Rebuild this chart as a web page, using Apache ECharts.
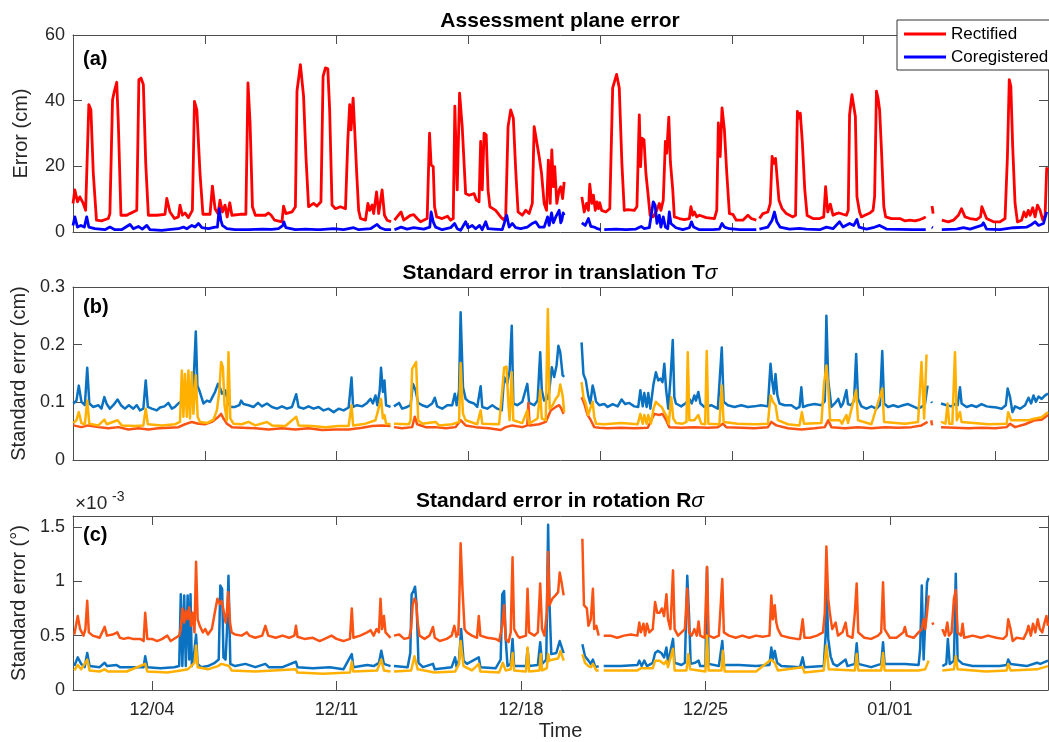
<!DOCTYPE html>
<html>
<head>
<meta charset="utf-8">
<script src="https://cdn.jsdelivr.net/npm/echarts@6/dist/echarts.min.js"></script>
<style>
  html, body { margin: 0; padding: 0; background: #fff; }
  #chart { width: 1049px; height: 742px; }
</style>
</head>
<body>
<div id="chart"></div>
<script>
// time axis: days since 12/01 00:00
var weekTicks = [3, 10, 17, 24, 31];
var weekLabels = ['12/04', '12/11', '12/18', '12/25', '01/01'];
var fiveDayTicks = [5, 10, 15, 20, 25, 30, 35];
var errTicks = [0, 20, 40, 60];
var transTicks = [0, 0.1, 0.2, 0.3];
var rotTicks = [0, 0.5, 1, 1.5]; // x 10^-3

// (a) assessment plane error, cm   (null = no data)
var rectified = [
[0,8.7],[0.07,12.8],[0.17,9.2],[0.26,10.7],[0.39,8.7],[0.48,6.6],[0.60,38.8],[0.68,37.2],[0.77,17.9],[0.89,3.6],[1.08,3.4],[1.34,4.1],[1.40,5.6],[1.50,40.3],[1.57,42.9],[1.66,45.6],[1.72,33.2],[1.82,5.1],[2.04,5.1],[2.16,5.6],[2.42,6.6],[2.50,46.4],[2.58,46.9],[2.67,44.9],[2.76,20.9],[2.86,5.1],[3.18,5.1],[3.49,5.4],[3.56,10.2],[3.68,6.1],[3.85,4.1],[4.00,4.6],[4.06,8.2],[4.15,5.1],[4.25,5.8],[4.38,4.4],[4.53,6.6],[4.61,39.8],[4.70,37.2],[4.82,17.9],[4.93,5.4],[5.20,5.4],[5.29,14.0],[5.39,7.1],[5.50,5.6],[5.58,9.7],[5.67,6.1],[5.77,8.2],[5.85,4.6],[5.95,8.9],[6.03,5.1],[6.34,5.4],[6.56,5.4],[6.64,45.4],[6.72,33.2],[6.81,7.7],[6.92,5.1],[7.30,5.1],[7.42,5.8],[7.52,5.1],[7.65,3.6],[7.93,3.1],[7.99,7.9],[8.08,5.6],[8.31,6.1],[8.44,7.7],[8.50,42.9],[8.63,51.0],[8.75,41.3],[8.84,23.0],[8.94,7.7],[9.13,8.7],[9.26,7.9],[9.32,8.2],[9.41,9.2],[9.49,47.4],[9.58,50.0],[9.67,49.7],[9.74,37.2],[9.83,8.2],[9.96,7.1],[10.15,7.7],[10.34,7.1],[10.43,28.1],[10.50,38.8],[10.55,31.1],[10.63,40.8],[10.69,31.1],[10.76,18.9],[10.84,6.6],[10.91,4.1],[11.10,3.6],[11.19,8.7],[11.26,6.6],[11.35,8.2],[11.41,5.6],[11.52,12.2],[11.60,5.6],[11.73,12.8],[11.82,5.1],[11.92,3.6],[12.07,3.1],null,
[12.20,3.6],[12.45,6.1],[12.55,3.6],[12.81,5.1],[12.93,5.3],[13.06,4.1],[13.19,3.1],[13.44,4.1],[13.53,30.1],[13.59,20.4],[13.67,19.9],[13.72,7.7],[13.80,4.6],[14.01,4.1],[14.21,4.8],[14.33,3.6],[14.43,4.1],[14.49,38.3],[14.58,12.8],[14.67,42.3],[14.77,32.1],[14.90,11.7],[15.03,11.2],[15.22,11.7],[15.31,9.7],[15.41,9.2],[15.47,27.6],[15.53,12.8],[15.60,30.1],[15.68,29.6],[15.75,12.8],[15.82,7.7],[16.04,6.6],[16.23,4.6],[16.33,3.8],[16.42,4.6],[16.51,32.1],[16.61,37.2],[16.71,34.7],[16.80,18.9],[16.89,6.1],[17.05,5.1],[17.18,6.6],[17.31,5.6],[17.43,8.7],[17.50,32.1],[17.57,32.3],[17.69,23.0],[17.78,17.9],[17.88,8.7],[17.97,6.6],[18.04,21.9],[18.11,8.7],[18.17,25.0],[18.23,13.8],[18.28,19.9],[18.36,8.7],[18.45,12.8],[18.51,13.8],[18.58,10.2],[18.64,15.3],null,
[19.31,10.7],[19.40,6.1],[19.49,8.7],[19.56,6.6],[19.61,14.6],[19.69,8.7],[19.75,11.2],[19.82,6.6],[19.88,9.2],[19.94,7.1],[19.99,8.9],[20.06,6.6],[20.22,6.1],[20.37,7.1],[20.48,43.9],[20.54,44.4],[20.63,48.0],[20.73,43.9],[20.83,20.9],[20.92,6.6],[21.05,6.8],[21.30,6.6],[21.40,7.7],[21.49,35.7],[21.54,19.9],[21.59,28.6],[21.67,28.1],[21.74,17.9],[21.82,11.7],[21.90,5.1],[22.02,4.6],[22.15,6.6],[22.25,8.7],[22.31,6.6],[22.40,9.7],[22.48,27.6],[22.53,24.0],[22.61,35.0],[22.67,21.4],[22.76,12.8],[22.82,4.6],[23.01,4.1],[23.20,3.8],[23.39,4.1],[23.45,7.7],[23.52,5.1],[23.58,6.1],[23.67,4.6],[23.77,5.1],[24.03,4.4],[24.34,4.1],[24.43,6.6],[24.49,33.2],[24.56,23.0],[24.63,37.8],[24.72,31.1],[24.81,17.9],[24.91,5.6],[25.04,5.4],[25.17,3.6],[25.42,3.6],[25.61,5.1],[25.74,4.1],[25.93,3.6],null,
[26.05,4.1],[26.18,5.6],[26.37,6.1],[26.46,8.7],[26.53,23.0],[26.60,20.9],[26.66,22.4],[26.71,21.9],[26.79,9.7],[26.91,7.1],[27.07,5.6],[27.32,4.6],[27.42,5.1],[27.49,36.7],[27.55,34.7],[27.60,36.2],[27.68,27.0],[27.77,12.8],[27.86,5.0],[28.08,4.1],[28.34,4.1],[28.49,4.6],[28.56,13.8],[28.64,6.1],[28.74,8.5],[28.84,5.1],[28.97,5.6],[29.07,5.8],[29.22,5.4],[29.35,5.1],[29.42,6.6],[29.47,35.7],[29.56,41.8],[29.63,41.8],[29.69,35.2],[29.75,10.7],[29.85,6.1],[29.92,4.6],[30.05,5.1],[30.24,5.8],[30.36,6.6],[30.42,10.7],[30.49,42.9],[30.55,40.8],[30.61,37.2],[30.68,25.0],[30.77,7.7],[30.84,4.6],[31.06,4.1],[31.38,4.1],[31.56,3.4],[31.76,3.6],[31.95,3.4],[32.14,3.8],[32.25,4.1],[32.36,4.6],null,
[32.60,7.9],[32.64,5.6],null,
[32.97,3.6],[33.22,3.1],[33.41,3.6],[33.60,5.1],[33.72,7.1],[33.85,4.6],[34.04,4.1],[34.29,3.8],[34.44,4.6],[34.49,7.7],[34.57,6.1],[34.67,4.1],[34.93,3.1],[35.18,3.1],[35.37,4.1],[35.46,23.0],[35.53,46.4],[35.59,44.4],[35.66,26.0],[35.75,8.7],[35.84,3.1],[36.00,3.6],[36.09,6.1],[36.17,4.6],[36.25,6.6],[36.32,5.1],[36.42,7.4],[36.51,4.6],[36.60,8.2],[36.70,6.6],[36.80,3.6],[36.89,5.1],[36.95,19.4],[37.00,18.9]
];
var coregistered = [
[0,2.0],[0.07,4.6],[0.17,1.5],[0.30,2.0],[0.43,1.5],[0.52,4.6],[0.60,1.5],[0.83,1.0],[1.21,0.7],[1.40,1.5],[1.59,0.7],[1.84,0.7],[2.16,2.3],[2.29,1.0],[2.48,1.7],[2.63,0.9],[2.80,2.0],[2.92,0.7],[3.37,0.5],[3.62,0.7],[4.00,1.0],[4.19,1.5],[4.32,1.0],[4.51,2.0],[4.63,1.5],[4.76,2.6],[4.89,1.3],[5.14,1.0],[5.39,1.5],[5.48,1.5],[5.55,7.1],[5.61,3.6],[5.67,2.0],[5.84,1.0],[6.15,0.7],[6.66,0.7],[7.17,0.9],[7.55,0.8],[7.80,1.0],[7.97,2.0],[8.00,3.1],[8.08,1.3],[8.44,0.7],[8.82,0.9],[9.26,0.7],[9.39,0.7],[9.89,1.0],[10.27,0.7],[10.65,1.3],[10.84,0.7],[11.29,1.0],[11.54,2.3],[11.66,1.3],[11.86,0.7],[12.07,0.7],null,
[12.20,0.7],[12.45,1.5],[12.68,0.9],[12.93,1.3],[13.31,0.9],[13.54,1.5],[13.59,6.1],[13.67,3.1],[13.76,1.5],[14.01,0.7],[14.33,1.3],[14.48,2.6],[14.58,1.0],[14.71,0.5],[14.90,3.1],[14.99,1.3],[15.15,2.0],[15.28,1.0],[15.43,2.0],[15.53,0.7],[15.66,3.1],[15.75,1.0],[15.98,0.9],[16.29,0.7],[16.46,5.1],[16.55,1.5],[16.67,2.6],[16.80,1.3],[16.99,1.0],[17.24,1.5],[17.43,2.6],[17.56,3.1],[17.69,1.5],[17.88,1.5],[18.01,4.6],[18.07,2.0],[18.16,5.8],[18.23,2.8],[18.32,4.6],[18.45,6.6],[18.51,2.8],[18.55,3.6],[18.60,5.8],[18.64,5.1],null,
[19.31,2.8],[19.44,2.0],[19.56,4.1],[19.65,1.7],[19.78,1.5],[19.90,1.0],[20.03,0.7],null,
[20.16,0.7],[20.60,0.9],[20.98,0.7],[21.36,0.9],[21.56,1.7],[21.68,1.0],[21.87,1.3],[22.02,9.2],[22.09,8.2],[22.16,2.6],[22.25,5.1],[22.31,1.5],[22.40,4.6],[22.48,1.5],[22.57,1.0],[22.63,6.1],[22.69,2.6],[22.88,1.3],[23.14,0.7],[23.39,1.3],[23.47,3.1],[23.55,1.5],[23.77,0.7],[24.28,0.7],[24.53,0.9],[24.63,2.6],[24.72,1.5],[24.91,1.0],[25.30,0.7],[25.93,0.7],null,
[26.05,0.9],[26.37,1.5],[26.53,3.6],[26.62,6.1],[26.71,3.1],[26.83,1.5],[27.19,0.9],[27.57,1.1],[27.83,0.9],[28.34,0.7],[28.59,1.5],[28.84,1.0],[29.09,3.1],[29.22,1.5],[29.47,2.6],[29.63,2.0],[29.75,3.8],[29.83,1.5],[30.11,0.9],[30.36,1.3],[30.61,2.0],[30.87,0.9],[31.38,0.8],[31.88,0.7],[32.36,0.7],null,
[32.59,1.5],[32.63,1.3],null,
[32.97,0.7],[33.53,0.9],[33.79,1.3],[34.04,0.9],[34.48,2.0],[34.55,2.8],[34.67,0.9],[35.18,0.7],[35.69,1.3],[36.20,1.5],[36.38,2.3],[36.51,3.1],[36.64,2.0],[36.83,2.6],[36.95,6.1]
];

// (b) standard error in translation, cm
var transBlue = [
[0.01,0.098],[0.13,0.103],[0.22,0.129],[0.32,0.101],[0.45,0.095],[0.54,0.160],[0.62,0.098],[0.77,0.092],[0.96,0.095],[1.08,0.089],[1.19,0.109],[1.28,0.097],[1.40,0.089],[1.53,0.095],[1.69,0.105],[1.82,0.095],[1.97,0.089],[2.12,0.095],[2.29,0.089],[2.42,0.095],[2.54,0.086],[2.67,0.089],[2.76,0.138],[2.84,0.092],[2.99,0.089],[3.18,0.086],[3.30,0.091],[3.47,0.093],[3.62,0.099],[3.75,0.089],[3.87,0.092],[4.00,0.098],[4.13,0.103],[4.32,0.121],[4.51,0.112],[4.57,0.129],[4.66,0.223],[4.72,0.129],[4.79,0.121],[4.86,0.118],[4.95,0.098],[5.08,0.103],[5.20,0.101],[5.29,0.109],[5.39,0.118],[5.50,0.132],[5.59,0.124],[5.65,0.115],[5.77,0.121],[5.88,0.103],[5.97,0.092],[6.15,0.092],[6.31,0.095],[6.38,0.103],[6.47,0.097],[6.66,0.095],[6.85,0.092],[7.02,0.099],[7.17,0.093],[7.36,0.098],[7.55,0.092],[7.74,0.089],[7.93,0.093],[8.12,0.089],[8.31,0.092],[8.47,0.114],[8.56,0.092],[8.75,0.089],[8.94,0.093],[9.13,0.089],[9.32,0.092],[9.51,0.086],[9.70,0.089],[9.89,0.083],[10.08,0.089],[10.27,0.086],[10.46,0.091],[10.57,0.143],[10.63,0.092],[10.78,0.095],[10.97,0.093],[11.16,0.099],[11.29,0.106],[11.38,0.098],[11.48,0.112],[11.55,0.095],[11.64,0.121],[11.69,0.160],[11.76,0.118],[11.82,0.138],[11.88,0.095],[12.05,0.092],null,
[12.18,0.093],[12.37,0.099],[12.49,0.089],[12.68,0.092],[12.81,0.095],[12.90,0.132],[13.00,0.121],[13.10,0.099],[13.25,0.095],[13.44,0.092],[13.63,0.098],[13.73,0.108],[13.82,0.093],[14.01,0.089],[14.20,0.095],[14.39,0.095],[14.49,0.115],[14.56,0.095],[14.65,0.121],[14.71,0.256],[14.80,0.126],[14.90,0.106],[15.03,0.101],[15.22,0.098],[15.34,0.092],[15.47,0.128],[15.53,0.092],[15.72,0.089],[15.91,0.095],[16.10,0.089],[16.27,0.086],[16.36,0.144],[16.48,0.132],[16.57,0.155],[16.65,0.233],[16.71,0.098],[16.86,0.095],[17.05,0.101],[17.24,0.132],[17.31,0.099],[17.50,0.095],[17.63,0.103],[17.73,0.187],[17.79,0.121],[17.88,0.103],[18.01,0.106],[18.07,0.118],[18.17,0.161],[18.26,0.144],[18.35,0.164],[18.42,0.198],[18.49,0.187],[18.58,0.147],[18.64,0.144],null,
[19.30,0.204],[19.37,0.149],[19.46,0.138],[19.55,0.112],[19.63,0.098],[19.72,0.129],[19.78,0.118],[19.85,0.101],[19.97,0.095],[20.16,0.097],[20.29,0.092],[20.48,0.097],[20.67,0.093],[20.82,0.105],[20.95,0.097],[21.11,0.099],[21.30,0.093],[21.45,0.092],[21.53,0.121],[21.62,0.093],[21.68,0.116],[21.77,0.092],[21.83,0.116],[21.91,0.089],[22.03,0.132],[22.12,0.152],[22.21,0.138],[22.29,0.141],[22.37,0.135],[22.44,0.167],[22.51,0.121],[22.59,0.089],[22.67,0.138],[22.76,0.208],[22.82,0.109],[22.88,0.098],[23.08,0.093],[23.26,0.099],[23.39,0.106],[23.48,0.098],[23.58,0.112],[23.64,0.103],[23.73,0.118],[23.81,0.098],[23.96,0.092],[24.22,0.095],[24.47,0.089],[24.53,0.092],[24.62,0.195],[24.69,0.101],[24.85,0.095],[25.10,0.092],[25.36,0.095],[25.61,0.092],[25.86,0.093],[26.11,0.095],[26.37,0.093],[26.47,0.167],[26.53,0.138],[26.60,0.115],[26.66,0.149],[26.73,0.112],[26.81,0.098],[27.00,0.095],[27.26,0.095],[27.45,0.089],[27.57,0.092],[27.64,0.126],[27.70,0.092],[27.89,0.095],[28.14,0.097],[28.40,0.095],[28.53,0.102],[28.59,0.250],[28.66,0.138],[28.78,0.092],[28.91,0.098],[29.04,0.106],[29.14,0.092],[29.22,0.098],[29.35,0.121],[29.41,0.097],[29.54,0.095],[29.64,0.103],[29.72,0.184],[29.79,0.106],[29.92,0.093],[30.11,0.089],[30.30,0.093],[30.49,0.089],[30.62,0.095],[30.71,0.189],[30.78,0.098],[30.93,0.092],[31.13,0.095],[31.32,0.092],[31.50,0.095],[31.69,0.097],[31.88,0.093],[32.07,0.089],[32.20,0.092],[32.33,0.097],[32.43,0.129],null,
[32.57,0.101],[32.60,0.099],null,
[32.94,0.098],[33.15,0.095],[33.34,0.093],[33.47,0.097],[33.57,0.095],[33.66,0.126],[33.72,0.098],[33.91,0.092],[34.10,0.095],[34.29,0.092],[34.48,0.097],[34.67,0.093],[34.86,0.092],[35.05,0.091],[35.24,0.089],[35.40,0.095],[35.47,0.124],[35.56,0.109],[35.65,0.083],[35.75,0.093],[35.94,0.089],[36.13,0.095],[36.26,0.108],[36.36,0.098],[36.45,0.112],[36.54,0.101],[36.64,0.110],[36.76,0.106],[36.89,0.112],[37.00,0.115]
];
var transOrange = [
[0.01,0.060],[0.32,0.057],[0.58,0.060],[0.96,0.057],[1.34,0.055],[1.72,0.057],[2.10,0.053],[2.48,0.055],[2.86,0.053],[3.24,0.055],[3.62,0.056],[4.00,0.057],[4.25,0.062],[4.51,0.066],[4.76,0.063],[5.01,0.062],[5.27,0.066],[5.52,0.075],[5.62,0.080],[5.71,0.072],[5.84,0.063],[6.03,0.057],[6.41,0.056],[6.92,0.055],[7.42,0.053],[7.93,0.055],[8.44,0.053],[8.94,0.055],[9.45,0.052],[9.96,0.053],[10.46,0.053],[10.97,0.056],[11.35,0.059],[11.73,0.060],[12.05,0.059],null,
[12.18,0.057],[12.49,0.055],[12.87,0.057],[12.97,0.075],[13.06,0.062],[13.38,0.057],[13.76,0.057],[14.14,0.055],[14.52,0.057],[14.71,0.069],[14.90,0.060],[15.28,0.057],[15.79,0.055],[16.23,0.052],[16.42,0.057],[16.67,0.060],[17.05,0.057],[17.24,0.060],[17.28,0.099],[17.33,0.060],[17.69,0.062],[17.94,0.066],[18.13,0.086],[18.32,0.092],[18.45,0.095],[18.52,0.090],[18.62,0.080],null,
[19.30,0.109],[19.40,0.098],[19.53,0.078],[19.65,0.069],[19.78,0.057],[19.97,0.056],[20.29,0.055],[20.80,0.056],[21.30,0.055],[21.81,0.056],[22.06,0.080],[22.25,0.078],[22.37,0.080],[22.51,0.069],[22.63,0.057],[23.08,0.056],[23.58,0.057],[24.09,0.056],[24.47,0.057],[24.66,0.063],[24.79,0.057],[25.36,0.056],[25.86,0.055],[26.37,0.057],[26.50,0.066],[26.69,0.060],[27.13,0.055],[27.64,0.053],[28.14,0.055],[28.53,0.057],[28.66,0.069],[28.78,0.057],[29.29,0.055],[29.79,0.057],[30.30,0.055],[30.81,0.057],[31.32,0.056],[31.82,0.057],[32.20,0.060],[32.43,0.066],null,
[32.57,0.069],[32.60,0.060],null,
[32.94,0.057],[33.47,0.056],[33.98,0.055],[34.48,0.056],[34.99,0.055],[35.43,0.057],[35.56,0.063],[35.75,0.057],[36.13,0.062],[36.51,0.069],[36.76,0.070],[37.00,0.078]
];
var transYellow = [
[0.01,0.064],[0.13,0.069],[0.22,0.083],[0.32,0.064],[0.45,0.062],[0.54,0.103],[0.62,0.063],[0.96,0.060],[1.19,0.070],[1.28,0.062],[1.69,0.069],[1.85,0.060],[2.35,0.059],[2.67,0.060],[2.76,0.089],[2.84,0.062],[3.37,0.060],[3.87,0.062],[4.06,0.066],[4.13,0.155],[4.19,0.075],[4.25,0.149],[4.32,0.075],[4.38,0.155],[4.44,0.072],[4.51,0.152],[4.57,0.080],[4.66,0.147],[4.73,0.075],[4.82,0.066],[5.08,0.064],[5.33,0.070],[5.46,0.086],[5.55,0.118],[5.62,0.170],[5.69,0.161],[5.75,0.095],[5.84,0.069],[5.90,0.187],[5.97,0.072],[6.09,0.063],[6.41,0.062],[6.66,0.066],[6.92,0.060],[7.36,0.066],[7.55,0.060],[8.06,0.059],[8.47,0.075],[8.56,0.060],[9.07,0.059],[9.58,0.057],[10.08,0.059],[10.46,0.059],[10.57,0.095],[10.63,0.060],[11.10,0.063],[11.48,0.069],[11.69,0.106],[11.76,0.072],[11.82,0.078],[11.88,0.063],[12.05,0.062],null,
[12.18,0.063],[12.75,0.062],[12.81,0.069],[12.87,0.158],[12.95,0.164],[13.02,0.170],[13.10,0.069],[13.25,0.063],[13.76,0.066],[13.89,0.060],[14.39,0.062],[14.65,0.066],[14.71,0.168],[14.80,0.080],[14.90,0.069],[15.34,0.062],[15.47,0.086],[15.53,0.063],[16.17,0.062],[16.29,0.121],[16.36,0.160],[16.45,0.162],[16.53,0.092],[16.57,0.069],[16.65,0.152],[16.71,0.069],[17.05,0.064],[17.24,0.086],[17.31,0.063],[17.63,0.072],[17.73,0.121],[17.79,0.072],[17.94,0.069],[18.02,0.262],[18.09,0.089],[18.20,0.095],[18.32,0.106],[18.42,0.112],[18.49,0.131],[18.58,0.112],[18.64,0.083],null,
[19.30,0.135],[19.37,0.109],[19.46,0.098],[19.55,0.078],[19.65,0.092],[19.72,0.101],[19.78,0.075],[19.85,0.063],[20.16,0.062],[20.80,0.064],[21.43,0.062],[21.53,0.080],[21.62,0.063],[21.68,0.078],[21.77,0.063],[21.83,0.078],[21.93,0.063],[22.03,0.089],[22.12,0.101],[22.25,0.095],[22.34,0.092],[22.44,0.083],[22.54,0.075],[22.61,0.063],[22.70,0.109],[22.78,0.072],[22.89,0.064],[23.14,0.063],[23.28,0.066],[23.33,0.187],[23.39,0.069],[23.58,0.069],[23.73,0.078],[23.84,0.063],[23.99,0.062],[24.05,0.189],[24.11,0.063],[24.53,0.062],[24.62,0.129],[24.69,0.066],[25.23,0.063],[25.86,0.062],[26.37,0.063],[26.47,0.112],[26.56,0.101],[26.66,0.095],[26.75,0.069],[27.13,0.062],[27.57,0.060],[27.66,0.083],[27.74,0.063],[28.40,0.064],[28.50,0.132],[28.59,0.164],[28.66,0.126],[28.73,0.069],[29.10,0.069],[29.18,0.063],[29.35,0.078],[29.41,0.064],[29.72,0.121],[29.79,0.069],[30.30,0.062],[30.71,0.124],[30.78,0.066],[31.57,0.063],[32.07,0.066],[32.20,0.170],[32.30,0.072],[32.39,0.183],null,
[32.94,0.066],[33.11,0.063],[33.19,0.098],[33.25,0.063],[33.37,0.063],[33.47,0.187],[33.54,0.069],[33.66,0.083],[33.72,0.066],[34.74,0.062],[35.43,0.063],[35.49,0.083],[35.60,0.069],[36.26,0.069],[36.51,0.072],[36.76,0.074],[37.00,0.083]
];

// (c) standard error in rotation, degrees x 10^-3
var rotBlue = [
[0.05,0.22],[0.18,0.30],[0.31,0.24],[0.44,0.21],[0.54,0.34],[0.63,0.22],[1.01,0.21],[1.20,0.25],[1.29,0.22],[1.65,0.23],[1.78,0.21],[2.29,0.21],[2.68,0.21],[2.74,0.31],[2.82,0.21],[3.32,0.20],[3.84,0.21],[4.03,0.22],[4.09,0.88],[4.15,0.22],[4.22,0.87],[4.28,0.22],[4.35,0.87],[4.41,0.28],[4.46,0.88],[4.51,0.22],[4.58,0.30],[4.67,0.51],[4.73,0.24],[4.86,0.21],[5.12,0.22],[5.38,0.25],[5.53,0.28],[5.59,0.96],[5.66,0.93],[5.71,0.30],[5.79,0.28],[5.84,0.53],[5.90,1.05],[5.97,0.24],[6.15,0.22],[6.54,0.24],[6.92,0.21],[7.30,0.24],[7.43,0.21],[7.95,0.21],[8.46,0.26],[8.52,0.21],[9.10,0.20],[9.74,0.21],[10.26,0.19],[10.58,0.33],[10.64,0.21],[11.16,0.23],[11.41,0.22],[11.61,0.25],[11.70,0.36],[11.80,0.24],[12.05,0.22],null,
[12.18,0.22],[12.70,0.21],[12.80,0.34],[12.85,0.88],[12.92,0.91],[12.98,0.95],[13.04,0.78],[13.11,0.25],[13.28,0.21],[13.66,0.24],[13.73,0.19],[14.37,0.21],[14.50,0.30],[14.56,0.21],[14.65,0.28],[14.73,0.56],[14.82,0.27],[14.95,0.24],[15.40,0.30],[15.46,0.21],[16.04,0.20],[16.23,0.28],[16.29,0.88],[16.36,0.91],[16.42,0.47],[16.49,0.22],[16.61,0.24],[16.68,0.47],[16.74,0.22],[17.00,0.22],[17.19,0.22],[17.25,0.38],[17.31,0.22],[17.64,0.23],[17.73,0.44],[17.80,0.24],[17.96,0.28],[18.03,1.52],[18.08,0.81],[18.15,0.33],[18.22,0.33],[18.34,0.34],[18.47,0.45],[18.54,0.44],[18.62,0.34],null,
[19.33,0.42],[19.43,0.31],[19.56,0.27],[19.65,0.24],[19.73,0.28],[19.82,0.21],[19.95,0.22],null,
[20.14,0.22],[20.78,0.22],[21.42,0.23],[21.49,0.27],[21.58,0.22],[21.68,0.27],[21.78,0.22],[22.00,0.25],[22.09,0.34],[22.19,0.36],[22.33,0.34],[22.43,0.30],[22.52,0.39],[22.58,0.25],[22.77,0.47],[22.83,0.25],[23.09,0.23],[23.22,0.25],[23.31,1.05],[23.38,0.68],[23.44,0.24],[23.61,0.25],[23.74,0.27],[23.80,0.22],[24.00,0.22],[24.06,1.13],[24.12,0.24],[24.51,0.22],[24.64,0.45],[24.70,0.23],[25.28,0.23],[25.92,0.22],[26.43,0.23],[26.50,0.39],[26.56,0.28],[26.63,0.36],[26.72,0.25],[26.88,0.22],[27.59,0.21],[27.69,0.30],[27.76,0.21],[28.49,0.22],[28.56,0.50],[28.59,0.99],[28.66,0.47],[28.75,0.31],[28.85,0.24],[29.00,0.22],[29.32,0.28],[29.39,0.22],[29.67,0.24],[29.74,0.43],[29.80,0.24],[30.29,0.21],[30.67,0.24],[30.74,0.44],[30.80,0.24],[31.57,0.24],[32.09,0.23],[32.15,0.38],[32.21,0.96],[32.28,0.28],[32.34,0.62],[32.41,0.99],[32.47,1.03],null,
[32.99,0.22],[33.14,0.24],[33.20,0.47],[33.27,0.24],[33.43,0.27],[33.50,1.07],[33.57,0.28],[33.76,0.24],[34.14,0.22],[34.65,0.22],[35.17,0.22],[35.43,0.23],[35.49,0.28],[35.58,0.24],[36.19,0.22],[36.58,0.25],[36.71,0.24],[37.00,0.27]
];
var rotOrange = [
[0.05,0.51],[0.18,0.68],[0.27,0.56],[0.40,0.50],[0.47,0.56],[0.54,0.82],[0.60,0.53],[0.75,0.50],[1.01,0.48],[1.20,0.58],[1.29,0.50],[1.50,0.51],[1.68,0.53],[1.78,0.48],[1.93,0.47],[2.10,0.48],[2.27,0.47],[2.42,0.47],[2.55,0.47],[2.68,0.45],[2.74,0.71],[2.82,0.47],[3.00,0.47],[3.19,0.45],[3.39,0.47],[3.58,0.50],[3.71,0.45],[3.90,0.48],[4.03,0.50],[4.09,0.56],[4.15,0.75],[4.22,0.62],[4.28,0.73],[4.35,0.65],[4.41,0.76],[4.48,0.59],[4.54,0.71],[4.61,0.53],[4.67,1.18],[4.73,0.65],[4.81,0.59],[4.93,0.53],[5.02,0.56],[5.12,0.51],[5.27,0.56],[5.38,0.71],[5.48,0.84],[5.57,0.79],[5.64,0.82],[5.70,0.75],[5.79,0.62],[5.84,0.71],[5.89,0.90],[5.96,0.62],[6.02,0.53],[6.15,0.51],[6.40,0.50],[6.60,0.53],[6.69,0.50],[6.92,0.48],[7.18,0.50],[7.30,0.59],[7.41,0.50],[7.69,0.48],[7.95,0.50],[8.20,0.48],[8.40,0.50],[8.46,0.59],[8.52,0.49],[8.78,0.47],[9.10,0.48],[9.36,0.45],[9.55,0.47],[9.81,0.50],[10.00,0.47],[10.26,0.45],[10.51,0.47],[10.58,0.75],[10.64,0.48],[10.90,0.50],[11.16,0.53],[11.29,0.55],[11.41,0.50],[11.52,0.56],[11.61,0.53],[11.67,0.84],[11.73,0.56],[11.80,0.68],[11.86,0.53],[12.05,0.48],null,
[12.18,0.50],[12.38,0.51],[12.57,0.47],[12.76,0.48],[12.83,0.56],[12.89,0.78],[12.96,0.84],[13.02,0.81],[13.08,0.62],[13.15,0.50],[13.34,0.47],[13.53,0.50],[13.66,0.58],[13.73,0.48],[13.92,0.45],[14.18,0.47],[14.37,0.50],[14.47,0.59],[14.56,0.48],null,
[14.62,0.50],[14.65,0.71],[14.71,1.35],[14.78,0.93],[14.86,0.56],[14.95,0.53],[15.14,0.50],[15.33,0.48],[15.40,0.68],[15.46,0.50],[15.72,0.48],[16.04,0.47],[16.17,0.45],[16.29,0.59],[16.36,0.78],[16.42,0.47],[16.53,0.44],[16.61,0.53],[16.68,1.22],[16.74,0.56],[16.87,0.50],[16.94,0.48],[17.19,0.50],[17.25,0.93],[17.31,0.53],[17.51,0.50],[17.64,0.53],[17.73,0.98],[17.80,0.56],[17.89,0.50],[17.98,0.71],[18.03,1.27],[18.08,0.78],[18.19,0.84],[18.31,0.87],[18.41,0.90],[18.47,1.08],[18.54,0.99],[18.62,0.87],null,
[19.33,1.39],[19.39,0.78],[19.50,0.75],[19.56,0.59],[19.65,0.65],[19.73,0.93],[19.78,0.56],[19.86,0.59],[19.95,0.50],null,
[20.14,0.50],[20.40,0.50],[20.65,0.48],[20.91,0.50],[21.17,0.51],[21.42,0.50],[21.49,0.62],[21.55,0.53],[21.65,0.61],[21.71,0.50],[21.78,0.61],[21.87,0.53],[22.00,0.56],[22.09,0.81],[22.17,0.71],[22.26,0.71],[22.35,0.75],[22.43,0.68],[22.52,0.88],[22.58,0.65],[22.67,0.56],[22.77,1.10],[22.83,0.56],[22.96,0.50],[23.09,0.53],[23.22,0.56],[23.31,0.93],[23.38,0.53],[23.48,0.50],[23.58,0.56],[23.67,0.50],[23.74,0.63],[23.80,0.50],[23.97,0.48],[24.06,1.13],[24.12,0.50],[24.32,0.48],[24.51,0.50],[24.64,1.02],[24.70,0.53],[24.89,0.50],[25.15,0.48],[25.40,0.50],[25.66,0.48],[25.92,0.50],[26.17,0.49],[26.43,0.50],[26.50,0.87],[26.56,0.65],[26.63,0.78],[26.69,0.62],[26.75,0.56],[26.88,0.50],[27.20,0.48],[27.46,0.47],[27.59,0.47],[27.69,0.65],[27.76,0.48],[27.97,0.48],[28.23,0.50],[28.46,0.53],[28.53,0.71],[28.59,1.32],[28.66,0.84],[28.72,0.71],[28.81,0.56],[28.94,0.62],[29.03,0.50],[29.20,0.53],[29.32,0.62],[29.39,0.50],[29.58,0.48],[29.67,0.71],[29.74,0.98],[29.80,0.53],[30.03,0.48],[30.29,0.47],[30.55,0.50],[30.67,0.53],[30.74,0.99],[30.80,0.56],[31.00,0.48],[31.25,0.48],[31.51,0.53],[31.57,0.58],[31.64,0.50],[31.90,0.48],[32.09,0.53],[32.21,0.56],[32.28,0.65],[32.34,0.56],[32.41,0.71],[32.47,0.87],null,
[32.61,0.62],[32.65,0.60],null,
[32.99,0.56],[33.09,0.50],[33.18,0.62],[33.24,0.50],[33.34,0.53],[33.43,0.84],[33.50,0.92],[33.57,0.53],[33.70,0.50],[33.76,0.61],[33.82,0.48],[34.14,0.50],[34.46,0.48],[34.72,0.50],[35.04,0.48],[35.30,0.47],[35.43,0.50],[35.49,0.65],[35.58,0.56],[35.66,0.45],[35.81,0.48],[36.07,0.47],[36.19,0.53],[36.26,0.59],[36.35,0.50],[36.43,0.61],[36.52,0.53],[36.61,0.65],[36.69,0.56],[36.78,0.53],[36.87,0.62],[36.94,0.68],[37.00,0.59]
];
var rotYellow = [
[0.05,0.18],[0.18,0.23],[0.31,0.19],[0.54,0.28],[0.63,0.18],[1.01,0.17],[1.20,0.19],[1.33,0.17],[2.04,0.17],[2.74,0.24],[2.82,0.17],[3.58,0.16],[4.09,0.18],[4.35,0.19],[4.61,0.25],[4.67,0.41],[4.73,0.21],[5.12,0.19],[5.50,0.22],[5.63,0.24],[5.92,0.22],[6.02,0.18],[6.92,0.17],[8.46,0.19],[8.52,0.16],[9.49,0.15],[10.51,0.16],[10.58,0.26],[10.64,0.17],[11.54,0.18],[11.70,0.28],[11.80,0.18],[12.05,0.17],null,
[12.18,0.17],[12.83,0.18],[12.96,0.31],[13.08,0.19],[13.73,0.16],[14.50,0.17],[14.65,0.24],[14.71,0.45],[14.82,0.22],[15.14,0.18],[15.40,0.24],[15.46,0.17],[16.17,0.16],[16.31,0.25],[16.42,0.18],[16.61,0.19],[16.68,0.34],[16.74,0.18],[17.19,0.17],[17.25,0.39],[17.31,0.17],[17.70,0.18],[17.75,0.33],[17.80,0.18],[17.98,0.20],[18.03,0.33],[18.08,0.27],[18.22,0.28],[18.41,0.29],[18.50,0.36],[18.62,0.27],null,
[19.33,0.33],[19.43,0.25],[19.56,0.22],[19.65,0.21],[19.73,0.24],[19.86,0.18],[19.95,0.18],null,
[20.14,0.18],[21.42,0.18],[21.55,0.20],[21.78,0.20],[22.00,0.20],[22.09,0.27],[22.26,0.27],[22.43,0.24],[22.52,0.27],[22.58,0.21],[22.77,0.38],[22.83,0.18],[23.28,0.18],[23.35,0.33],[23.42,0.19],[24.00,0.17],[24.06,0.50],[24.12,0.18],[24.61,0.18],[24.66,0.36],[24.73,0.17],[25.92,0.17],[26.50,0.28],[26.63,0.25],[26.75,0.18],[27.69,0.21],[27.76,0.16],[28.49,0.18],[28.59,0.41],[28.68,0.19],[29.67,0.18],[29.74,0.33],[29.80,0.18],[30.67,0.18],[30.74,0.34],[30.80,0.18],[32.09,0.18],[32.34,0.19],[32.47,0.27],null,
[32.99,0.18],[33.43,0.19],[33.50,0.31],[33.57,0.19],[34.65,0.17],[35.43,0.18],[35.49,0.24],[35.58,0.18],[36.58,0.19],[37.00,0.22]
];

var FONT = '"Liberation Sans", Arial, Helvetica, sans-serif';
var AXIS = '#4d4d4d';
var TEXT = '#262626';
var X_MIN = 0, X_MAX = 37;

// gaps: null -> '-' so the line breaks
function withGaps(points) {
  return points.map(function (p, i) {
    return p === null ? [points[i - 1][0] + 0.01, '-'] : p;
  });
}

function xAxis(grid, pos, ticks, labels) {
  return {
    type: 'value', gridIndex: grid, position: pos, min: X_MIN, max: X_MAX,
    axisLine: { show: true, onZero: false, lineStyle: { color: AXIS, width: 1 } },
    axisTick: { show: true, inside: true, length: 9, customValues: ticks, lineStyle: { color: AXIS } },
    axisLabel: labels ? {
      show: true, customValues: ticks, margin: 11, fontSize: 18, color: TEXT, fontFamily: FONT,
      formatter: function (v) { return labels[ticks.indexOf(v)]; }
    } : { show: false },
    splitLine: { show: false }
  };
}

function yAxis(grid, pos, min, max, ticks, name) {
  var left = pos === 'left';
  return {
    type: 'value', gridIndex: grid, position: pos, min: min, max: max,
    name: left ? name : '', nameLocation: 'middle', nameGap: 42,
    nameTextStyle: { fontSize: 20, color: TEXT, fontFamily: FONT },
    axisLine: { show: true, onZero: false, lineStyle: { color: AXIS, width: 1 } },
    axisTick: { show: true, inside: true, length: 9, customValues: ticks, lineStyle: { color: AXIS } },
    axisLabel: left ? { show: true, customValues: ticks, margin: 8, fontSize: 18, color: TEXT, fontFamily: FONT } : { show: false },
    splitLine: { show: false }
  };
}

function line(name, data, color, width, grid) {
  return {
    name: name, type: 'line', xAxisIndex: grid, yAxisIndex: grid,
    data: withGaps(data), showSymbol: false, symbol: 'none', connectNulls: false,
    lineStyle: { color: color, width: width, join: 'round' }, itemStyle: { color: color },
    emphasis: { disabled: true }, animation: false
  };
}

function label(text, x, y, size, weight, rich) {
  return {
    type: 'text', x: x, y: y, z: 100,
    style: {
      text: text, fill: '#000', fontSize: size, fontWeight: weight, fontFamily: FONT,
      align: rich && rich.align ? rich.align : 'center', verticalAlign: 'middle',
      rich: rich && rich.rich ? rich.rich : undefined
    }
  };
}

var sigma = { rich: { s: { fontStyle: 'italic', fontWeight: 'normal', fontSize: 21, fontFamily: FONT, fill: '#000' } } };

var chart = echarts.init(document.getElementById('chart'), null, { renderer: 'canvas' });
chart.setOption({
  animation: false,
  backgroundColor: '#fff',
  grid: [
    { left: 73, top: 35, width: 975, height: 197, outerBoundsMode: 'none' },
    { left: 73, top: 287, width: 975, height: 173, outerBoundsMode: 'none' },
    { left: 73, top: 516, width: 975, height: 174, outerBoundsMode: 'none' }
  ],
  xAxis: [
    xAxis(0, 'bottom', fiveDayTicks),
    xAxis(1, 'bottom', fiveDayTicks),
    Object.assign(xAxis(2, 'bottom', weekTicks, weekLabels), {
      name: 'Time', nameLocation: 'middle', nameGap: 31,
      nameTextStyle: { fontSize: 20, color: TEXT, fontFamily: FONT }
    }),
    xAxis(0, 'top', fiveDayTicks),
    xAxis(1, 'top', fiveDayTicks),
    xAxis(2, 'top', weekTicks)
  ],
  yAxis: [
    yAxis(0, 'left', 0, 60, errTicks, 'Error (cm)'),
    yAxis(1, 'left', 0, 0.3, transTicks, 'Standard error (cm)'),
    yAxis(2, 'left', 0, 1.6, rotTicks, 'Standard error (°)'),
    yAxis(0, 'right', 0, 60, errTicks),
    yAxis(1, 'right', 0, 0.3, transTicks),
    yAxis(2, 'right', 0, 1.6, rotTicks)
  ],
  legend: {
    data: ['Rectified', 'Coregistered'], orient: 'vertical', left: 897, top: 20,
    padding: [3, 6, 2, 7], itemGap: 1, itemWidth: 42, itemHeight: 3, icon: 'rect',
    textStyle: { fontSize: 17, color: '#000', fontFamily: FONT, lineHeight: 22 },
    borderColor: '#333', borderWidth: 1, backgroundColor: '#fff', selectedMode: false
  },
  graphic: [
    label('Assessment plane error', 560, 21, 21, 'bold'),
    label('Standard error in translation T{s|σ}', 560, 273, 21, 'bold', sigma),
    label('Standard error in rotation R{s|σ}', 560, 501, 21, 'bold', sigma),
    label('(a)', 83, 59, 20, 'bold', { align: 'left' }),
    label('(b)', 83, 307, 20, 'bold', { align: 'left' }),
    label('(c)', 83, 535, 20, 'bold', { align: 'left' }),
    { type: 'text', x: 75, y: 504, style: { text: '×10', fill: TEXT, fontSize: 19, fontFamily: FONT, align: 'left', verticalAlign: 'middle' } },
    { type: 'text', x: 112, y: 497, style: { text: '-3', fill: TEXT, fontSize: 14, fontFamily: FONT, align: 'left', verticalAlign: 'middle' } }
  ],
  series: [
    line('Rectified', rectified, '#ff0000', 2.8, 0),
    line('Coregistered', coregistered, '#0000ff', 2.8, 0),
    line('transBlue', transBlue, '#0a72c0', 2.5, 1),
    line('transOrange', transOrange, '#fb5314', 2.5, 1),
    line('transYellow', transYellow, '#ffb000', 2.5, 1),
    line('rotBlue', rotBlue, '#0a72c0', 2.5, 2),
    line('rotOrange', rotOrange, '#fb5314', 2.5, 2),
    line('rotYellow', rotYellow, '#ffb000', 2.5, 2)
  ]
});
</script>
</body>
</html>
